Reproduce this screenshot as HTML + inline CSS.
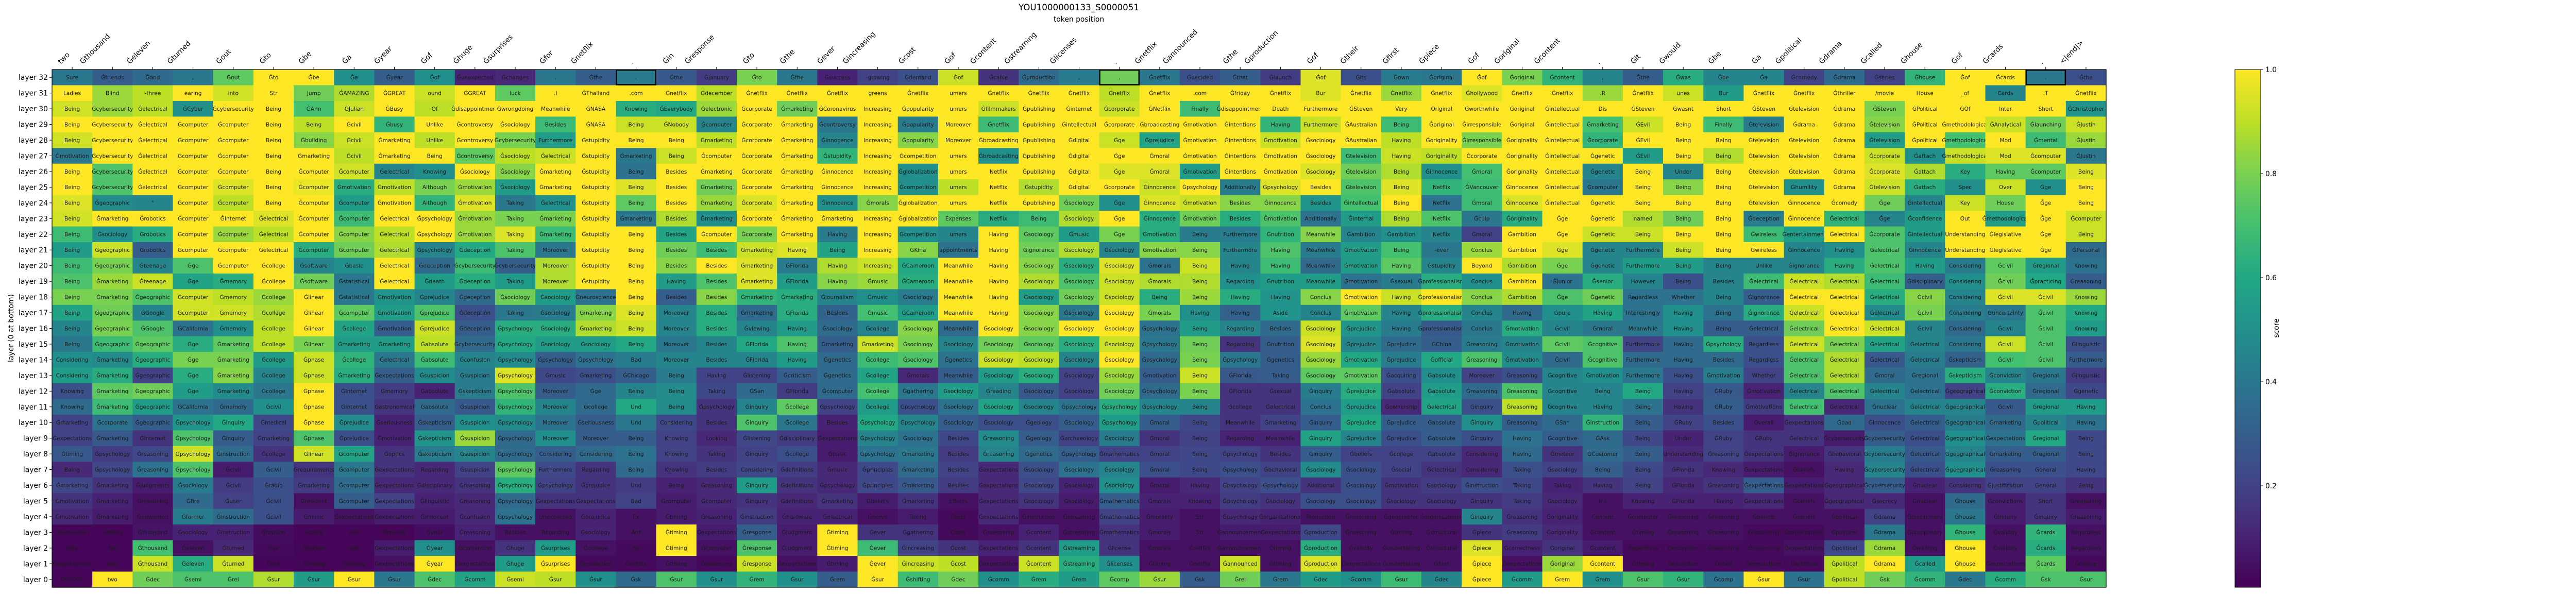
<!DOCTYPE html>
<html><head><meta charset="utf-8"><title>YOU1000000133_S0000051</title>
<style>
html,body{margin:0;padding:0;background:#fff;}
svg{display:block;font-family:"DejaVu Sans","Liberation Sans",sans-serif;}
</style></head>
<body>
<svg id="chart" xmlns="http://www.w3.org/2000/svg" width="5100" height="1155" viewBox="0 0 5100 1155">
<rect x="0" y="0" width="5100" height="1155" fill="#fff"/>
<text x="2094" y="20" font-size="16.7" text-anchor="middle" fill="#000">YOU1000000133_S0000051</text>
<text x="2094" y="42" font-size="13.9" text-anchor="middle" fill="#000">token position</text>
<text x="0" y="0" font-size="13.9" text-anchor="middle" fill="#000" transform="translate(26,637) rotate(-90)">layer (0 at bottom)</text>
<g id="cells"></g>
<g id="xticks"></g>
<g id="yticks"></g>
<g id="cbar"></g>
</svg>
<script>
const tokens = ["two","Ġthousand","Ġeleven","Ġturned","Ġout","Ġto","Ġbe","Ġa","Ġyear","Ġof","Ġhuge","Ġsurprises","Ġfor","Ġnetflix",".","Ġin","Ġresponse","Ġto","Ġthe","Ġever","Ġincreasing","Ġcost","Ġof","Ġcontent","Ġstreaming","Ġlicenses",".","Ġnetflix","Ġannounced","Ġthe","Ġproduction","Ġof","Ġtheir","Ġfirst","Ġpiece","Ġof","Ġoriginal","Ġcontent",".","Ġit","Ġwould","Ġbe","Ġa","Ġpolitical","Ġdrama","Ġcalled","Ġhouse","Ġof","Ġcards",".","<|end|>"];
const layerCount = 33;
const highlightCols = [14, 26, 49];
const cbarTicks = [0.2, 0.4, 0.6, 0.8, 1.0];
const wordRows = [
"Sure|Ġfriends|Ġand|,|Ġout|Ġto|Ġbe|Ġa|Ġyear|Ġof|Ġunexpected|Ġchanges|.|Ġthe|.|Ġthe|Ġjanuary|Ġto|Ġthe|Ġsuccess|-growing|Ġdemand|Ġof|Ġcable|Ġproduction|,|.|Ġnetflix|Ġdecided|Ġthat|Ġlaunch|Ġof|Ġits|Ġown|Ġoriginal|Ġof|Ġoriginal|Ġcontent|,|Ġthe|Ġwas|Ġbe|Ġa|Ġcomedy|Ġdrama|Ġseries|Ġhouse|Ġof|Ġcards|.|Ġthe",
"Ladies|Blind|-three|earing|into|Str|Jump|ĠAMAZING|ĠGREAT|ound|ĠGREAT|luck|.I|ĠThailand|.com|Ġnetflix|Ġdecember|Ġnetflix|Ġnetflix|Ġnetflix|greens|Ġnetflix|umers|Ġnetflix|Ġnetflix|Ġnetflix|Ġnetflix|Ġnetflix|.com|Ġfriday|Ġnetflix|Bur|Ġnetflix|Ġnetflix|Ġnetflix|Ġhollywood|Ġnetflix|Ġnetflix|.R|Ġnetflix|unes|Bur|Ġnetflix|Ġnetflix|Ġthriller|/movie|House|_of|Cards|.T|Ġnetflix",
"Being|Ġcybersecurity|Ġelectrical|ĠCyber|Ġcybersecurity|Being|ĠAnn|ĠJulian|ĠBusy|Of|Ġdisappointment|Ġwrongdoing|Meanwhile|ĠNASA|Knowing|ĠEverybody|Ġelectronic|Ġcorporate|Ġmarketing|ĠCoronavirus|Increasing|Ġpopularity|umers|Ġfilmmakers|Ġpublishing|Ġinternet|Ġcorporate|ĠNetflix|Finally|Ġdisappointment|Death|Furthermore|ĠSteven|Very|Original|Ġworthwhile|Ġoriginal|Ġintellectual|Dis|ĠSteven|Ġwasnt|Short|ĠSteven|Ġtelevision|Ġdrama|ĠSteven|ĠPolitical|ĠOf|Inter|Short|ĠChristopher",
"Being|Ġcybersecurity|Ġelectrical|Ġcomputer|Ġcomputer|Being|Being|Ġcivil|Ġbusy|Unlike|Ġcontroversy|Ġsociology|Besides|ĠNASA|Being|ĠNobody|Ġcomputer|Ġcorporate|Ġmarketing|Ġcontroversy|Increasing|Ġpopularity|Moreover|Ġnetflix|Ġpublishing|Ġintellectual|Ġcorporate|Ġbroadcasting|Ġmotivation|Ġintentions|Having|Furthermore|ĠAustralian|Being|Ġoriginal|Ġirresponsible|Ġoriginal|Ġintellectual|Ġmarketing|ĠEvil|Being|Finally|Ġtelevision|Ġdrama|Ġdrama|Ġtelevision|ĠPolitical|Ġmethodological|ĠAnalytical|Ġlaunching|ĠJustin",
"Being|Ġcybersecurity|Ġelectrical|Ġcomputer|Ġcomputer|Being|Ġbuilding|Ġcivil|Ġmarketing|Unlike|Ġcontroversy|Ġcybersecurity|Furthermore|Ġstupidity|Being|Being|Ġmarketing|Ġcorporate|Ġmarketing|Ġinnocence|Increasing|Ġpopularity|Moreover|Ġbroadcasting|Ġpublishing|Ġdigital|Ġge|Ġprejudice|Ġmotivation|Ġintentions|Ġmotivation|Ġsociology|ĠAustralian|Having|Ġoriginality|Ġirresponsible|Ġoriginality|Ġintellectual|Ġcorporate|ĠEvil|Being|Being|Ġtelevision|Ġtelevision|Ġdrama|Ġtelevision|Ġpolitical|Ġmethodological|Mod|Ġmental|ĠJustin",
"Ġmotivation|Ġcybersecurity|Ġelectrical|Ġcomputer|Ġcomputer|Being|Ġmarketing|Ġcivil|Ġmarketing|Being|Ġcontroversy|Ġsociology|Ġelectrical|Ġstupidity|Ġmarketing|Being|Ġcomputer|Ġcorporate|Ġmarketing|Ġstupidity|Increasing|Ġcompetition|umers|Ġbroadcasting|Ġpublishing|Ġdigital|Ġge|Ġmoral|Ġmotivation|Ġintentions|Ġmotivation|Ġsociology|Ġtelevision|Having|Ġoriginality|Ġcorporate|Ġoriginality|Ġintellectual|Ġgenetic|ĠEvil|Being|Being|Ġtelevision|Ġtelevision|Ġdrama|Ġcorporate|Ġattach|Ġmethodological|Mod|Ġcomputer|ĠJustin",
"Being|Ġcybersecurity|Ġelectrical|Ġcomputer|Ġcomputer|Being|Ġcomputer|Ġcomputer|Ġelectrical|Knowing|Ġsociology|Ġsociology|Ġmarketing|Ġstupidity|Being|Besides|Ġmarketing|Ġcorporate|Ġmarketing|Ġinnocence|Increasing|Ġglobalization|umers|Netflix|Ġpublishing|Ġdigital|Ġge|Ġmoral|Ġmotivation|Ġintentions|Ġmotivation|Ġsociology|Ġtelevision|Being|Ġinnocence|Ġmoral|Ġoriginality|Ġintellectual|Ġgenetic|Being|Under|Being|Ġtelevision|Ġtelevision|Ġdrama|Ġcorporate|Ġattach|Key|Having|Ġcomputer|Being",
"Being|Ġcybersecurity|Ġelectrical|Ġcomputer|Ġcomputer|Being|Ġcomputer|Ġmotivation|Ġmotivation|Although|Ġmotivation|Ġsociology|Ġmarketing|Ġstupidity|Being|Besides|Ġmarketing|Ġcorporate|Ġmarketing|Ġinnocence|Increasing|Ġcompetition|umers|Netflix|Ġstupidity|Ġdigital|Ġcorporate|Ġinnocence|Ġpsychology|Additionally|Ġpsychology|Besides|Ġtelevision|Being|Netflix|ĠVancouver|Ġinnocence|Ġintellectual|Ġcomputer|Being|Being|Being|Ġtelevision|Ġhumility|Ġdrama|Ġtelevision|Ġattach|Spec|Over|Ġge|Being",
"Being|Ġgeographic|°|Ġcomputer|Ġcomputer|Being|Ġcomputer|Ġcomputer|Ġmotivation|Although|Ġmotivation|Taking|Ġelectrical|Ġstupidity|Being|Besides|Ġmarketing|Ġcorporate|Ġmarketing|Ġinnocence|Ġmorals|Ġglobalization|umers|Netflix|Ġpublishing|Ġsociology|Ġge|Ġinnocence|Ġmotivation|Besides|Ġinnocence|Besides|Ġintellectual|Being|Netflix|Ġmoral|Ġinnocence|Ġintellectual|Ġgenetic|Being|Being|Being|Ġtelevision|Ġinnocence|Ġcomedy|Ġge|Ġintellectual|Key|House|Ġge|Being",
"Being|Ġmarketing|Ġrobotics|Ġcomputer|ĠInternet|Ġelectrical|Ġcomputer|Ġcomputer|Ġelectrical|Ġpsychology|Ġmotivation|Taking|Ġmarketing|Ġstupidity|Ġmarketing|Besides|Ġmarketing|Ġcorporate|Ġmarketing|Ġmarketing|Increasing|Ġglobalization|Expenses|Netflix|Being|Ġsociology|Ġge|Ġinnocence|Ġmotivation|Besides|Ġmotivation|Additionally|Ġinternal|Being|Netflix|Ġculp|Ġoriginality|Ġge|Ġgenetic|named|Being|Being|Ġdeception|Ġinnocence|Ġelectrical|Ġge|Ġconfidence|Out|Ġmethodological|Ġge|Ġcomputer",
"Being|Ġsociology|Ġrobotics|Ġcomputer|Ġcomputer|Ġelectrical|Ġcomputer|Ġcomputer|Ġelectrical|Ġpsychology|Ġmotivation|Taking|Ġmarketing|Ġstupidity|Being|Besides|Ġcomputer|Ġcorporate|Ġmarketing|Having|Increasing|Ġcompetition|umers|Having|Ġsociology|Ġmusic|Ġge|Ġmotivation|Being|Furthermore|Ġnutrition|Meanwhile|Ġambition|Ġambition|Netflix|Ġmoral|Ġambition|Ġge|Ġgenetic|Being|Being|Being|Ġwireless|Ġentertainment|Ġelectrical|Ġcorporate|Ġintellectual|Understanding|Ġlegislative|Ġge|Being",
"Being|Ġgeographic|Ġrobotics|Ġcomputer|Ġcomputer|Ġelectrical|Ġcomputer|Ġcomputer|Ġelectrical|Ġpsychology|Ġdeception|Taking|Moreover|Ġstupidity|Being|Besides|Besides|Ġmarketing|Having|Being|Increasing|ĠKina|appointments|Having|Ġignorance|Ġsociology|Ġsociology|Ġmotivation|Being|Furthermore|Having|Meanwhile|Ġmotivation|Being|-ever|Conclus|Ġambition|Ġge|Ġgenetic|Furthermore|Being|Being|Ġwireless|Ġinnocence|Having|Ġelectrical|Ġinnocence|Understanding|Ġlegislative|Ġge|ĠPersonal",
"Being|Ġgeographic|Ġteenage|Ġge|Ġcomputer|Ġcollege|Ġsoftware|Ġbasic|Ġelectrical|Ġdeception|Ġcybersecurity|Ġcybersecurity|Moreover|Ġstupidity|Being|Besides|Besides|Ġmarketing|ĠFlorida|Having|Increasing|ĠCameroon|Meanwhile|Having|Ġsociology|Ġsociology|Ġsociology|Ġmorals|Being|Having|Having|Meanwhile|Ġmotivation|Having|Ġstupidity|Beyond|Ġambition|Ġge|Ġgenetic|Furthermore|Being|Being|Unlike|Ġignorance|Having|Ġelectrical|Having|Considering|Ġcivil|Ġregional|Knowing",
"Being|Ġmarketing|Ġteenage|Ġge|Ġmemory|Ġcollege|Ġsoftware|Ġstatistical|Ġelectrical|Ġdeath|Ġdeception|Taking|Moreover|Ġstupidity|Being|Having|Besides|Ġmarketing|ĠFlorida|Having|Ġmusic|ĠCameroon|Meanwhile|Having|Ġsociology|Ġsociology|Ġsociology|Ġmorals|Being|Regarding|Ġnutrition|Meanwhile|Ġmotivation|Ġsexual|Ġprofessionalism|Conclus|Ġambition|Ġjunior|Ġsenior|However|Being|Besides|Ġelectrical|Ġelectrical|Ġelectrical|Ġelectrical|Ġdisciplinary|Considering|Ġcivil|Ġpracticing|Ġreasoning",
"Being|Ġmarketing|Ġgeographic|Ġcomputer|Ġmemory|Ġcollege|Ġlinear|Ġstatistical|Ġmotivation|Ġprejudice|Ġdeception|Ġsociology|Ġsociology|Ġneuroscience|Being|Besides|Besides|Ġmarketing|Ġmarketing|Ġjournalism|Ġmusic|Ġsociology|Meanwhile|Having|Ġsociology|Ġsociology|Ġsociology|Being|Being|Having|Having|Conclus|Ġmotivation|Having|Ġprofessionalism|Conclus|Ġambition|Ġge|Ġgenetic|Regardless|Whether|Being|Ġignorance|Ġelectrical|Ġelectrical|Ġelectrical|Ġcivil|Considering|Ġcivil|Ġcivil|Knowing",
"Being|Ġgeographic|ĠGoogle|Ġcomputer|Ġmemory|Ġcollege|Ġlinear|Ġcomputer|Ġmotivation|Ġprejudice|Ġdeception|Taking|Ġsociology|Ġmarketing|Being|Moreover|Besides|Ġmarketing|ĠFlorida|Besides|Ġmusic|ĠCameroon|Meanwhile|Having|Ġsociology|Ġsociology|Ġsociology|Ġmorals|Having|Having|Aside|Conclus|Ġmotivation|Having|Ġprofessionalism|Conclus|Having|Ġpure|Having|Interestingly|Having|Being|Ġignorance|Ġelectrical|Ġelectrical|Ġelectrical|Ġcivil|Considering|Ġuncertainty|Ġcivil|Knowing",
"Being|Ġgeographic|ĠGoogle|ĠCalifornia|Ġmemory|Ġcollege|Ġlinear|Ġcollege|Ġmotivation|Ġprejudice|Ġdeception|Ġpsychology|Ġsociology|Ġmarketing|Being|Moreover|Besides|Ġviewing|Having|Ġsociology|Ġcollege|Ġsociology|Meanwhile|Ġsociology|Ġsociology|Ġsociology|Ġsociology|Ġpsychology|Being|Regarding|Besides|Ġsociology|Ġprejudice|Having|Ġprofessionalism|Conclus|Ġmotivation|Ġcivil|Ġmoral|Meanwhile|Having|Being|Ġelectrical|Ġelectrical|Ġelectrical|Ġelectrical|Ġcivil|Considering|Ġcivil|Ġcivil|Knowing",
"Being|Ġgeographic|Ġgeographic|Ġge|Ġmarketing|Ġcollege|Ġlinear|Ġmarketing|Ġmarketing|Ġabsolute|Ġcybersecurity|Ġpsychology|Ġsociology|Ġsociology|Being|Moreover|Besides|ĠFlorida|Having|Ġmarketing|Ġmarketing|Ġsociology|Ġsociology|Ġsociology|Ġsociology|Ġsociology|Ġsociology|Ġpsychology|Being|Regarding|Ġnutrition|Ġsociology|Ġprejudice|Ġprejudice|ĠChina|Ġreasoning|Ġmotivation|Ġcivil|Ġcognitive|Furthermore|Having|Ġpsychology|Regardless|Ġelectrical|Ġelectrical|Ġelectrical|Ġelectrical|Considering|Ġcivil|Ġcivil|Ġlinguistic",
"Considering|Ġmarketing|Ġgeographic|Ġge|Ġmarketing|Ġcollege|Ġphase|Ġcollege|Ġelectrical|Ġabsolute|Ġconfusion|Ġpsychology|Ġpsychology|Ġpsychology|Bad|Moreover|Besides|ĠFlorida|Having|Ġgenetics|Ġcollege|Ġsociology|Ġgenetics|Ġsociology|Ġsociology|Ġsociology|Ġsociology|Ġpsychology|Being|Ġpsychology|Ġgenetics|Ġsociology|Ġmotivation|Ġprejudice|Ġofficial|Ġreasoning|Ġmotivation|Ġcivil|Ġcognitive|Furthermore|Having|Besides|Regardless|Ġelectrical|Ġelectrical|Ġelectrical|Ġelectrical|Ġskepticism|Ġcivil|Ġcivil|Furthermore",
"Considering|Ġmarketing|Ġgeographic|Ġge|Ġmarketing|Ġcollege|Ġphase|Ġmarketing|Ġexpectations|Ġsuspicion|Ġsuspicion|Ġpsychology|Ġmusic|Ġmarketing|ĠChicago|Being|Having|Ġlistening|Ġcriticism|Ġgenetics|Ġcollege|Ġmorals|Meanwhile|Ġsociology|Ġsociology|Ġsociology|Ġsociology|Ġmotivation|Being|ĠFlorida|Taking|Ġsociology|Ġmotivation|Ġacquiring|Ġabsolute|Moreover|Ġreasoning|Ġcognitive|Ġmotivation|Furthermore|Having|Ġmotivation|Whether|Ġelectrical|Ġelectrical|Ġmoral|Ġregional|Ġskepticism|Ġconviction|Ġregional|Ġlinguistic",
"Knowing|Ġmarketing|Ġgeographic|Ġge|Ġmarketing|Ġcollege|Ġphase|ĠInternet|Ġmemory|Ġabsolute|Ġskepticism|Ġpsychology|Moreover|Ġge|Being|Being|Taking|ĠSan|ĠFlorida|Ġcomputer|Ġcollege|Ġgathering|Ġsociology|Ġreading|Ġsociology|Ġsociology|Ġsociology|Ġpsychology|Being|ĠFlorida|Ġsexual|Ġinquiry|Ġprejudice|Ġabsolute|Ġabsolute|Ġreasoning|Ġreasoning|Ġcognitive|Being|Being|Having|ĠRuby|Ġmotivation|Ġelectrical|Ġelectrical|Ġelectrical|Ġelectrical|Ġgeographical|Ġconviction|Ġregional|Ġgenetic",
"Knowing|Ġmarketing|Ġgeographic|ĠCalifornia|Ġmemory|Ġcivil|Ġphase|ĠInternet|Ġastronomical|Ġabsolute|Ġsuspicion|Ġpsychology|Moreover|Ġcollege|Und|Being|Ġpsychology|Ġinquiry|Ġcollege|Ġpsychology|Ġcollege|Ġpsychology|Ġsociology|Ġsociology|Ġsociology|Ġpsychology|Ġpsychology|Ġpsychology|Being|Ġcollege|Ġelectrical|Conclus|Ġprejudice|Ġownership|Ġelectrical|Ġinquiry|Ġreasoning|Ġcognitive|Having|Being|Having|ĠRuby|Ġmotivations|Ġelectrical|Ġelectrical|Ġnuclear|Ġelectrical|Ġgeographical|Ġcivil|Ġregional|Having",
"Ġmarketing|Ġcorporate|Ġgeographic|Ġpsychology|Ġinquiry|Ġmedical|Ġphase|Ġprejudice|Ġseriousness|Ġskepticism|Ġsuspicion|Ġpsychology|Moreover|Ġseriousness|Und|Considering|Besides|Ġinquiry|Ġcollege|Besides|Ġpsychology|Ġpsychology|Ġsociology|Ġsociology|Ġgeology|Ġsociology|Ġpsychology|Ġmoral|Being|Meanwhile|Ġmarketing|Ġinquiry|Ġprejudice|Ġprejudice|Ġabsolute|Ġinquiry|Ġreasoning|ĠSan|Ġinstruction|Being|ĠRuby|Besides|Overall|Ġexpectations|Ġbad|Ġinnocence|Ġelectrical|Ġgeographical|Ġmarketing|Ġpolitical|Having",
"Ġexpectations|Ġmarketing|Ġinternet|Ġpsychology|Ġinquiry|Ġmarketing|Ġphase|Ġprejudice|Ġmotivation|Ġskepticism|Ġsuspicion|Ġpsychology|Moreover|Moreover|Being|Knowing|Looking|Ġlistening|Ġdisciplinary|Ġexpectations|Ġpsychology|Ġsociology|Besides|Ġreasoning|Ġgeology|Ġarchaeology|Ġsociology|Ġmoral|Being|Regarding|Meanwhile|Ġinquiry|Ġprejudice|Ġprejudice|Ġabsolute|Ġinquiry|Having|Ġcognitive|ĠAsk|Being|Under|ĠRuby|ĠRuby|Ġelectrical|Ġcybersecurity|Ġcybersecurity|Ġelectrical|Ġgeographical|Ġexpectations|Ġregional|Being",
"Ġtiming|Ġpsychology|Ġreasoning|Ġpsychology|Ġinstruction|Ġcollege|Ġlinear|Ġcomputer|Ġoptics|Ġskepticism|Ġsuspicion|Ġpsychology|Considering|Considering|Being|Knowing|Taking|Ġinquiry|Ġcollege|Ġbasic|Ġpsychology|Ġmarketing|Besides|Ġreasoning|Ġgenetics|Ġpsychology|Ġmathematics|Ġmoral|Being|Ġpsychology|Besides|Ġinquiry|Ġbeliefs|Ġcollege|Ġabsolute|Considering|Having|Ġmeteor|ĠCustomer|Being|Understanding|Ġreasoning|Ġexpectations|Ġignorance|Ġbehavioral|Ġcybersecurity|Ġelectrical|Ġgeographical|Ġmarketing|Ġregional|Being",
"Being|Ġpsychology|Ġreasoning|Ġpsychology|Ġcivil|Ġcivil|Ġrequirements|Ġcomputer|Ġexpectations|Regarding|Ġsuspicion|Ġpsychology|Furthermore|Regarding|Being|Knowing|Besides|Considering|Ġdefinitions|Ġmusic|Ġprinciples|Ġmarketing|Besides|Ġexpectations|Ġsociology|Ġsociology|Ġsociology|Ġmoral|Being|Ġpsychology|Ġbehavioral|Ġsociology|Ġsociology|Ġsocial|Ġelectrical|Considering|Taking|Ġsociology|Being|Being|ĠFlorida|Knowing|Ġexpectations|Ġbeliefs|Having|Ġcybersecurity|Ġelectrical|Ġgeographical|Ġreasoning|General|Having",
"Ġmarketing|Ġmarketing|Ġjudgments|Ġsociology|Ġcivil|Ġradio|Ġmarketing|Ġcomputer|Ġexpectations|Ġdisciplinary|Ġreasoning|Ġpsychology|Ġpsychology|Ġprejudice|Und|Being|Ġreasoning|Ġinquiry|Ġdefinitions|Ġpsychology|Ġprinciples|Ġmarketing|Besides|Ġexpectations|Ġsociology|Ġsociology|Ġsociology|Ġmoral|Having|Ġpsychology|Ġpsychology|Additional|Ġsociology|Ġmotivation|Ġsociology|Ġinstruction|Taking|Taking|Having|Being|ĠFlorida|Ġreasoning|Ġexpectations|Ġexpectations|Ġgeographical|Ġcybersecurity|Ġnuclear|Considering|Ġjustification|General|Being",
"Ġmotivation|Ġmarketing|Ġreasoning|Ġfire|Ġuser|Ġcivil|Ġresident|Ġcomputer|Ġexpectations|Ġlinguistic|Ġreasoning|Ġpsychology|Ġexpectations|Ġexpectations|Bad|Ġcomputer|Ġcomputer|Ġinquiry|Ġdefinitions|Ġmarketing|Ġbeliefs|Ġmarketing|Effects|Ġexpectations|Ġsociology|Ġsociology|Ġmathematics|Ġmorals|Knowing|Ġpsychology|Ġsociology|Ġsociology|Ġsociology|Ġsociology|Ġsociology|Ġinquiry|Taking|Ġsociology|Ins|Knowing|ĠFlorida|Having|Ġexpectations|Ġbeliefs|Ġgeographical|Ġsecrecy|Ġnuclear|Ġhouse|Ġconvictions|Short|Ġreasoning",
"Ġmotivation|Ġmarketing|Ġunwanted|Ġformer|Ġinstruction|Ġcivil|Ġmusic|Ġexpectations|Ġexpectations|Ġinnocent|Ġconfusion|Ġpsychology|Unexpected|Ġprejudice|Ex|Ġtiming|Ġreasoning|Ġinstruction|Ġhardware|Ġelectrical|Ġnerve|Taking|Costs|Ġexpectations|Ġinstruction|Ġstreaming|Ġmathematics|Ġmorality|Str|Ġpsychology|Ġorganizational|Production|Ġreasoning|Ġgeographic|Ġorganizational|Ġinquiry|Ġreasoning|Ġoriginality|Content|Ġcomputer|Ġreasoning|Ġreasoning|Ġbeliefs|Ġbeliefs|Ġpolitical|Ġdrama|Ġdisciplinary|Ġhouse|Ġinquiry|Ġinquiry|Ġreasoning",
"Ġmotivation|Ġethics|Ġthousand|Ġsociology|Ġinstruction|Ġfashion|Ġcamp|osit|Ġmorals|Ġyear|Ġreasoning|Besides|Regarding|Ġsociology|Ant|Ġtiming|Ġexpectations|Ġresponse|Ġjudgment|Ġtiming|Ġever|Ġgathering|Costs|Ġreasoning|Ġcontent|Ġstreaming|Ġmathematics|Ġmorals|Str|Ġannouncement|Ġexpectations|Ġproduction|Ġreasoning|Ġtiming|Ġstructural|Ġpiece|Ġreasoning|Ġoriginality|Ġcontent|Ġtiming|Ġreasoning|Ġreasoning|Ġreasoning|Ġexpectations|Ġpolitical|Ġdrama|Ġdisciplinary|Ġhouse|Ġvalidity|Ġcards|Regardless",
"Ġge|Two|Ġthousand|Ġeleven|Ġturned|Ġair|Ġrocket|osit|Ġexpectations|Ġyear|Ġcontention|Ġhuge|Ġsurprises|Ġcollege|Sp|Ġtiming|Ġcomputer|Ġresponse|Ġjudgment|Ġtiming|Ġever|Ġincreasing|Ġcost|Ġexpectations|Ġcontent|Ġstreaming|Ġlicense|Ġmorals|Ġnetflix|Ġannouncement|Ġtiming|Ġproduction|Ġvalidity|Ġundertaking|Ġstructural|Ġpiece|Ġcorrectness|Ġoriginal|Ġcontent|Regardless|Ġexception|Ġreasoning|Ġreasoning|Ġexpectations|Ġpolitical|Ġdrama|Ġwalking|Ġhouse|Ġvalidity|Ġcards|Regardless",
"Ġexpectations|two|Ġthousand|Ġeleven|Ġturned|Ġout|Ġtiming|Ġtiming|Ġexpectations|Ġyear|Ġexpectations|Ġhuge|Ġsurprises|Ġprotection|Ġnetflix|Ġtiming|Ġreasoning|Ġresponse|Ġexpectations|Ġtiming|Ġever|Ġincreasing|Ġcost|Ġexpectations|Ġcontent|Ġstreaming|Ġlicenses|Ġtiming|Ġnetflix|Ġannounced|Ġtiming|Ġproduction|Ġexpectations|Ġundertaking|Ġfirst|Ġpiece|Ġexpectations|Ġoriginal|Ġcontent|Ġtiming|Ġexception|Ġshell|Ġprecautions|Ġartificial|Ġpolitical|Ġdrama|Ġcalled|Ġhouse|Ġexpectations|Ġcards|Ġtiming",
"ĊĊĊĊĊĊ|two|Ġdec|Ġsemi|Ġrel|Ġsur|Ġsur|Ġsur|Ġsur|Ġdec|Ġcomm|Ġsemi|Ġsur|Ġsur|Ġsk|Ġsur|Ġsur|Ġrem|Ġsur|Ġrem|Ġsur|Ġshifting|Ġdec|Ġcomm|Ġrem|Ġrem|Ġcomp|Ġsur|Ġsk|Ġrel|Ġrem|Ġdec|Ġcomm|Ġsur|Ġdec|Ġpiece|Ġcomm|Ġrem|Ġrem|Ġsur|Ġsur|Ġcomp|Ġsur|Ġsur|Ġpolitical|Ġsk|Ġcomm|Ġdec|Ġcomm|Ġsk|Ġsur"
];
const scoreRows = [
[.4,.3,.35,.4,.75,1,1,.5,.3,.5,.1,.12,.4,.3,.42,.28,.18,.8,.4,.1,.2,.25,.92,.15,.35,.42,.78,.4,.25,.3,.18,.95,.25,.42,.4,1,.8,.65,.45,.3,.62,.45,.45,.2,.35,.2,.65,1,1,.4,.25],
[1,.85,.9,1,.93,1,.78,.88,1,.92,1,.75,1,1,1,1,.9,1,1,1,1,1,1,1,1,1,.9,1,1,1,1,.95,1,.85,1,.95,1,1,.85,1,.92,.55,1,1,1,1,1,1,.45,1,1],
[.93,.85,.9,.5,1,1,.7,.92,1,.9,1,1,1,1,.62,.6,.85,1,.78,1,1,1,1,.92,1,1,.92,1,.68,1,1,1,1,1,1,1,1,1,1,1,1,1,1,1,1,.8,1,1,1,1,.52],
[1,1,1,1,1,1,.9,1,.65,1,1,1,.68,1,.92,.92,.45,1,1,.4,1,.42,1,.68,1,1,1,1,1,1,.65,.92,1,.68,1,1,1,1,.7,.92,1,.68,.42,1,1,.82,1,1,.92,.78,.92],
[.93,1,1,1,1,1,.82,.92,1,.9,1,.8,.55,1,1,1,.9,1,1,.45,1,.82,1,1,1,1,.92,.58,1,1,.92,1,1,.9,1,.8,1,1,.65,1,1,1,1,1,1,.55,1,.7,1,.68,.85],
[.4,1,1,1,1,1,1,.9,1,1,.75,.9,.92,1,.4,.92,1,1,1,.65,1,1,1,.5,1,1,1,1,1,1,1,1,.68,.92,.9,1,1,1,1,.55,1,.88,1,1,1,.92,.5,.92,.95,.95,.4],
[1,.72,1,1,1,1,1,.93,.45,.5,1,.82,1,1,.38,1,1,1,1,1,1,.5,1,1,1,1,.95,.95,.55,1,1,.95,.78,.88,.5,.7,1,1,.45,1,.45,1,1,1,1,.95,.88,.62,.75,.75,.95],
[1,.72,1,1,.95,1,.97,.62,.9,.8,.85,.55,1,1,.95,1,.78,1,1,1,1,.5,.9,1,.88,1,1,.92,1,.42,.95,1,.72,.95,.65,.68,1,1,.4,1,.82,1,1,.5,1,.92,.62,.5,.92,.5,1],
[.95,.48,.45,1,.9,1,1,.55,1,.65,.95,.4,.5,1,.75,1,.85,.95,1,.5,.82,1,1,1,1,.78,.5,.95,.92,.82,.82,.52,.7,1,.38,.68,.95,1,1,1,1,1,1,1,1,.78,.45,.92,.78,1,1],
[.93,1,1,1,1,.95,1,.68,1,1,.85,.8,.8,1,.4,.88,.5,1,1,1,1,1,.75,.62,.68,.88,1,.62,.78,.62,.72,.38,.55,.88,.72,.4,.62,1,1,.88,.78,1,.42,1,.65,.45,.55,1,.55,1,.92],
[.68,.5,.62,1,.85,.9,1,.82,.9,1,.85,.95,.68,1,1,.58,1,.8,1,.42,1,.5,.45,1,.75,.55,.8,.62,.42,.42,.65,.82,.45,.5,.45,.2,1,1,.92,.92,1,1,.68,.55,1,.72,.55,1,1,1,.92],
[.55,.92,.3,1,1,1,.62,.78,.88,.45,.6,.72,.4,1,1,.78,.68,.92,.95,.58,1,.82,.38,1,.78,.88,.45,.82,.82,.45,.72,.42,.55,.7,.4,.85,1,.95,.45,.45,.92,1,1,.45,.5,.72,.45,1,1,1,.35],
[.68,.8,.45,.72,1,1,.45,.5,1,.35,.68,.3,.88,1,1,.82,1,.95,.42,.88,.92,.6,1,1,.82,.62,.95,.38,.92,.45,.68,.35,.55,.75,.45,1,.88,.8,.45,.55,.55,.45,.45,.45,.62,.72,.55,.42,.75,.55,.38],
[.72,.85,.92,.58,.62,1,.78,.4,1,.55,.62,.55,.88,1,1,.55,.72,.95,.55,.82,.85,.62,1,1,.88,.72,.92,.88,.88,.5,.55,.55,.38,.42,.62,.5,1,.38,.62,.45,.25,.45,.68,.92,.88,.68,.3,.5,.78,.6,.3],
[.8,.8,.72,.93,.9,.85,1,.4,.52,.45,.35,.78,.55,.38,1,.3,.82,.65,.62,.45,.5,.42,1,1,.55,.78,.92,.62,.85,.62,.52,.82,1,.92,1,.82,.88,.72,.78,.38,.38,.45,.3,1,1,.62,.82,.45,.95,.95,.85],
[.58,.78,.45,.93,.93,.88,1,.75,.55,.72,.25,.4,.42,.82,.95,.45,.62,.35,.62,.32,.7,.55,1,1,.82,.4,1,.8,.5,.32,.52,.45,.75,.45,.62,.45,.35,.5,.58,.38,.5,.38,.62,.92,1,.48,.8,.42,.4,.72,.6],
[.45,.8,.72,.38,.5,.9,1,.58,.3,.92,.3,.62,.62,.88,.92,.45,.62,.45,.55,.35,.45,.82,.35,1,.82,1,1,.38,.55,.45,.35,.92,.52,.42,.28,.4,.62,.45,.4,.4,.5,.3,.3,.78,1,.92,.45,.35,.45,.72,.55],
[.4,.68,.75,.62,.75,.9,.8,.55,.55,.9,.35,.6,.55,.55,.6,.4,.45,.6,.72,.3,.92,.8,.45,.78,.75,.62,.92,.4,.78,.15,.3,.95,.45,.35,.3,.42,.45,.75,.72,.2,.35,.62,.25,.92,.8,.58,.45,.4,.92,.72,.25],
[.5,.48,.62,.8,.8,.55,.92,.65,.4,.68,.45,.48,.3,.38,.42,.45,.45,.45,.55,.35,.68,.72,.38,.92,.9,.45,1,.35,.8,.4,.3,.85,.6,.42,.6,.72,.48,.35,.72,.35,.35,.35,.25,.72,.88,.28,.42,.32,.7,.72,.3],
[.55,.62,.2,.62,.82,.45,.92,.62,.3,.48,.42,.95,.22,.25,.3,.42,.2,.2,.3,.35,.58,.12,.3,.55,.62,.2,.85,.3,.92,.28,.3,.75,.75,.25,.5,.2,.25,.45,.5,.4,.25,.42,.2,.72,.88,.35,.38,.62,.45,.4,.18],
[.25,.75,.78,.55,.48,.4,1,.25,.18,.1,.42,.72,.3,.35,.45,.48,.22,.35,.18,.35,.7,.4,.55,.45,.28,.2,.78,.35,.8,.15,.15,.42,.62,.2,.55,.35,.72,.45,.45,.6,.2,.28,.1,.45,.72,.45,.38,.2,.62,.35,.22],
[.35,.68,.55,.38,.35,.5,1,.25,.15,.35,.28,.65,.45,.35,.6,.48,.15,.45,.75,.2,.55,.25,.38,.58,.45,.38,.62,.45,.45,.15,.15,.38,.55,.12,.58,.25,.9,.45,.45,.38,.15,.3,.18,.7,.12,.38,.45,.45,.28,.55,.55],
[.2,.38,.3,.52,.6,.22,1,.48,.1,.3,.5,.48,.38,.3,.4,.22,.15,.72,.4,.1,.6,.45,.3,.25,.25,.3,.55,.3,.22,.15,.2,.3,.6,.3,.3,.5,.3,.35,.65,.3,.2,.25,.08,.15,.35,.25,.3,.42,.35,.45,.38],
[.2,.28,.15,.72,.3,.2,.72,.25,.1,.52,.85,.35,.5,.3,.3,.2,.12,.22,.18,.08,.45,.38,.22,.48,.3,.2,.42,.15,.2,.1,.1,.58,.45,.25,.3,.25,.38,.3,.35,.22,.1,.2,.15,.15,.08,.3,.25,.5,.38,.6,.22],
[.28,.18,.22,.93,.35,.15,.93,.58,.15,.42,.45,.35,.3,.35,.38,.2,.15,.2,.25,.08,.38,.4,.18,.45,.35,.3,.2,.2,.22,.2,.15,.3,.2,.2,.2,.12,.35,.15,.35,.3,.12,.2,.15,.08,.15,.42,.28,.45,.3,.3,.22],
[.12,.22,.38,.72,.08,.3,.15,.4,.15,.12,.2,.75,.22,.15,.35,.15,.18,.22,.18,.12,.22,.35,.2,.12,.25,.38,.45,.25,.22,.25,.2,.48,.25,.2,.15,.12,.25,.2,.3,.22,.15,.12,.08,.05,.12,.45,.25,.5,.25,.25,.22],
[.22,.15,.08,.42,.18,.25,.18,.35,.12,.12,.15,.62,.2,.15,.18,.1,.12,.55,.15,.12,.22,.28,.18,.12,.22,.1,.5,.08,.12,.2,.25,.15,.25,.15,.18,.25,.22,.1,.15,.2,.12,.15,.3,.08,.12,.3,.1,.15,.2,.2,.15],
[.15,.1,.05,.35,.2,.25,.05,.3,.2,.1,.12,.35,.15,.15,.2,.08,.12,.15,.12,.15,.08,.15,.05,.12,.15,.08,.3,.1,.1,.18,.15,.25,.25,.15,.15,.15,.18,.12,.05,.1,.1,.1,.12,.05,.12,.12,.05,.35,.08,.15,.05],
[.12,.08,.05,.42,.35,.25,.08,.05,.08,.08,.12,.38,.05,.1,.05,.08,.1,.18,.1,.1,.05,.08,.03,.12,.05,.05,.2,.08,.05,.12,.1,.05,.05,.05,.05,.45,.15,.1,.05,.05,.05,.05,.05,.05,.05,.2,.05,.4,.08,.15,.08],
[.02,.02,.06,.1,.1,.04,.02,.02,.02,.04,.1,.05,.05,.1,.05,1,.08,.3,.08,1,.15,.15,.03,.05,.1,.05,.15,.08,.05,.08,.08,.22,.05,.05,.05,.15,.18,.12,.05,.05,.05,.05,.03,.03,.05,.4,.05,.65,.05,.65,.05],
[.02,.02,.7,.05,.12,.03,.02,.02,.08,.5,.05,.15,.55,.05,.03,1,.05,.72,.08,1,.68,.2,.15,.1,.15,.55,.15,.05,.05,.05,.05,.62,.05,.05,.05,.95,.1,.15,.08,.03,.03,.03,.03,.05,.22,.85,.05,1,.05,.62,.05],
[.02,.02,.92,.62,.92,.02,.02,.02,.05,1,.05,.55,1,.03,.03,.05,.03,.92,.05,.08,1,.92,.9,.05,.92,.62,.5,.05,.05,.92,.05,.95,.05,.05,.05,1,.05,.85,1,.03,.03,.03,.03,.03,.9,1,.55,1,.05,.75,.03],
[.02,1,.78,.72,.72,.88,.55,1,.4,.72,.58,.92,.9,.5,.35,.72,.5,.65,.5,.3,1,.68,.78,.5,.62,.55,.75,.85,.3,.78,.4,.55,.5,.68,.45,1,.55,1,.5,.72,.65,.38,1,.38,.9,.78,.65,.4,.62,.72,.72]
];

const NS = "http://www.w3.org/2000/svg";
const PLOT_L = 101, PLOT_T = 135, PLOT_R = 4088, PLOT_B = 1140;
const VMIN = 0.005, VMAX = 1.0;
const nCols = tokens.length;
const colW = (PLOT_R - PLOT_L) / nCols;
const rowH = (PLOT_B - PLOT_T) / layerCount;
const xScale = c => PLOT_L + c * colW;
const yScale = r => PLOT_T + r * rowH;   // r = 0 is top row (layer 32)
const VIR = ["#440154","#482475","#414487","#355f8d","#2a788e","#21918c","#22a884","#44bf70","#7ad151","#bddf26","#fde725"];
function hex2rgb(h){return [parseInt(h.substr(1,2),16),parseInt(h.substr(3,2),16),parseInt(h.substr(5,2),16)];}
function viridis(v){
  let t = (v - VMIN) / (VMAX - VMIN); t = Math.max(0, Math.min(1, t));
  const p = t * (VIR.length - 1); const i = Math.min(Math.floor(p), VIR.length - 2); const f = p - i;
  const a = hex2rgb(VIR[i]), b = hex2rgb(VIR[i+1]);
  return "rgb(" + a.map((x,k)=>Math.round(x + (b[k]-x)*f)).join(",") + ")";
}
function mk(tag, attrs){ const e = document.createElementNS(NS, tag); for (const k in attrs) e.setAttribute(k, attrs[k]); return e; }

const cellsG = document.getElementById("cells");
for (let r = 0; r < layerCount; r++) {
  const words = wordRows[r].split("|");
  const vals = scoreRows[r];
  const layer = layerCount - 1 - r;
  for (let c = 0; c < nCols; c++) {
    const rect = mk("rect", {x: xScale(c).toFixed(2), y: yScale(r).toFixed(2), width: (colW+0.6).toFixed(2), height: (rowH+0.6).toFixed(2), fill: viridis(vals[c])});
    
    
    cellsG.appendChild(rect);
    const t = mk("text", {x: (xScale(c) + colW/2).toFixed(2), y: (yScale(r) + rowH/2 + 3.8).toFixed(2), "font-size": "10.6", "text-anchor": "middle", fill: "#1a1a1a"});
    t.textContent = words[c] !== undefined ? words[c] : "";
    
    
    cellsG.appendChild(t);
  }
}
// highlight boxes on top row
highlightCols.forEach(c => {
  const b = mk("rect", {x: (xScale(c)+1).toFixed(2), y: (yScale(0)+1).toFixed(2), width: (colW-2).toFixed(2), height: (rowH-2).toFixed(2), fill: "none", stroke: "#000", "stroke-width": "2.5"});
  
  
  cellsG.appendChild(b);
});
const frame = mk("rect", {x: PLOT_L, y: PLOT_T, width: PLOT_R-PLOT_L, height: PLOT_B-PLOT_T, fill: "none", stroke: "#000", "stroke-width": "1.2"});


cellsG.appendChild(frame);

// x ticks (top)
const xg = document.getElementById("xticks");
tokens.forEach((tok, c) => {
  const cx = xScale(c) + colW/2;
  const tk = mk("line", {x1: cx, y1: PLOT_T - 5, x2: cx, y2: PLOT_T, stroke: "#000", "stroke-width": "1"});
  
  
  xg.appendChild(tk);
  const t = mk("text", {x: 0, y: 0, "font-size": "13.9", fill: "#000"});
  t.textContent = tok;
  
  
  xg.appendChild(t);
  let L = t.getComputedTextLength ? t.getComputedTextLength() : tok.length * 8;
  const sx = cx - L * 0.7071 - 4, sy = PLOT_T - 10;
  t.setAttribute("x", sx.toFixed(2)); t.setAttribute("y", sy.toFixed(2));
  t.setAttribute("transform", "rotate(-45 " + sx.toFixed(2) + " " + sy.toFixed(2) + ")");
});

// y ticks
const yg = document.getElementById("yticks");
for (let r = 0; r < layerCount; r++) {
  const cy = yScale(r) + rowH/2;
  const tk = mk("line", {x1: PLOT_L - 5, y1: cy, x2: PLOT_L, y2: cy, stroke: "#000", "stroke-width": "1"});
  
  
  yg.appendChild(tk);
  const t = mk("text", {x: PLOT_L - 8, y: (cy + 5).toFixed(2), "font-size": "13.9", "text-anchor": "end", fill: "#000"});
  t.textContent = "layer " + (layerCount - 1 - r);
  
  
  yg.appendChild(t);
}

// colorbar
const cb = document.getElementById("cbar");
const CB_L = 4338, CB_R = 4388, CB_T = 135, CB_B = 1140;
const defs = mk("defs", {});
const grad = mk("linearGradient", {id: "vgrad", x1: "0", y1: "1", x2: "0", y2: "0"});
VIR.forEach((col, i) => { grad.appendChild(mk("stop", {offset: (i/(VIR.length-1)).toFixed(3), "stop-color": col})); });
defs.appendChild(grad); cb.appendChild(defs);
const cbr = mk("rect", {x: CB_L, y: CB_T, width: CB_R-CB_L, height: CB_B-CB_T, fill: "url(#vgrad)", stroke: "#000", "stroke-width": "1"});


cb.appendChild(cbr);
const cbY = v => CB_B - (v - VMIN) / (VMAX - VMIN) * (CB_B - CB_T);
cbarTicks.forEach(v => {
  const y = cbY(v);
  const tk = mk("line", {x1: CB_R, y1: y, x2: CB_R + 5, y2: y, stroke: "#000", "stroke-width": "1"});
  
  
  cb.appendChild(tk);
  const t = mk("text", {x: CB_R + 9, y: (y + 5).toFixed(2), "font-size": "13.9", fill: "#000"});
  t.textContent = v.toFixed(1);
  
  
  cb.appendChild(t);
});
const cbl = mk("text", {x: 0, y: 0, "font-size": "13.9", "text-anchor": "middle", fill: "#000", transform: "translate(4423,637) rotate(-90)"});
cbl.textContent = "score";


cb.appendChild(cbl);
</script>
</body></html>
